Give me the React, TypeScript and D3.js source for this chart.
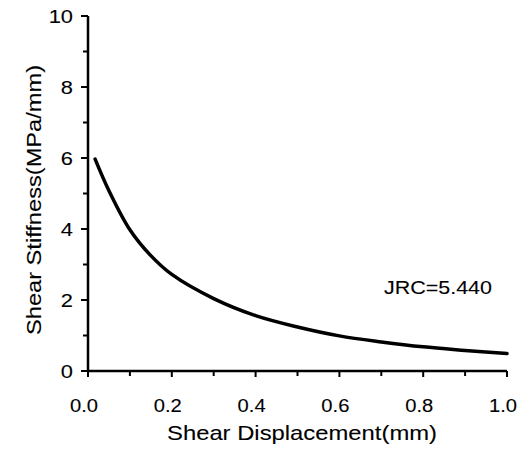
import React, { useRef, useEffect } from 'react';
import * as d3 from 'd3';

// curve
const dispValues = [0.017, 0.05, 0.1, 0.15, 0.2, 0.3, 0.4, 0.5, 0.6, 0.7, 0.8, 0.9, 1.0];
const stiffValues = [5.97, 5.08, 3.98, 3.25, 2.72, 2.04, 1.56, 1.24, 0.99, 0.82, 0.68, 0.58, 0.49];

const xMajor = [0, 0.2, 0.4, 0.6, 0.8, 1.0];
const xMinor = [0.1, 0.3, 0.5, 0.7, 0.9];
const yMajor = [0, 2, 4, 6, 8, 10];
const yMinor = [1, 3, 5, 7, 9];

const xTitle = 'Shear Displacement(mm)';
const yTitle = 'Shear Stiffness(MPa/mm)';
const note = 'JRC=5.440';

const App = () => {
  const ref = useRef(null);

  useEffect(() => {
    const width = 526, height = 451;
    const margin = { top: 16, right: 19, bottom: 80, left: 88 };
    const font = '"Liberation Sans", Arial, sans-serif';

    const root = d3.select(ref.current);
    root.selectAll('*').remove();

    const svg = root.append('svg')
      .attr('width', width)
      .attr('height', height)
      .style('position', 'absolute')
      .style('left', 0)
      .style('top', 0)
      .style('background', 'white');

    const x = d3.scaleLinear().domain([0, 1]).range([margin.left, width - margin.right]);
    const y = d3.scaleLinear().domain([0, 10]).range([height - margin.bottom, margin.top]);

    // scanned text is a bit wider than plain Arial
    function widen(sel, k) {
      sel.style('font-family', font)
        .attr('stroke', 'black')
        .attr('stroke-width', 0.1);
      sel.each(function () {
        const w = this.getComputedTextLength();
        d3.select(this).attr('textLength', w * k).attr('lengthAdjust', 'spacingAndGlyphs');
      });
    }

    // x axis
    const xAxis = svg.append('g').attr('transform', 'translate(0,' + y(0) + ')');
    xAxis.append('line')
      .attr('x1', x(0)).attr('x2', x(1))
      .attr('stroke', 'black').attr('stroke-width', 2.5);
    xAxis.selectAll('line.minor').data(xMinor).enter().append('line')
      .attr('class', 'minor')
      .attr('x1', d => x(d)).attr('x2', d => x(d))
      .attr('y1', 0).attr('y2', 5)
      .attr('stroke', 'black').attr('stroke-width', 2);
    xAxis.selectAll('line.major').data(xMajor).enter().append('line')
      .attr('class', 'major')
      .attr('x1', d => x(d)).attr('x2', d => x(d))
      .attr('y1', 0).attr('y2', 6)
      .attr('stroke', 'black').attr('stroke-width', 2);
    xAxis.selectAll('text').data(xMajor).enter().append('text')
      .attr('x', d => x(d) - 4)
      .attr('y', 41)
      .attr('text-anchor', 'middle')
      .style('font-size', '18px')
      .text(d => d3.format('.1f')(d))
      .call(widen, 1.12);

    // y axis
    const yAxis = svg.append('g').attr('transform', 'translate(' + x(0) + ',0)');
    yAxis.append('line')
      .attr('y1', y(0)).attr('y2', y(10))
      .attr('stroke', 'black').attr('stroke-width', 2.5);
    yAxis.selectAll('line.minor').data(yMinor).enter().append('line')
      .attr('class', 'minor')
      .attr('y1', d => y(d)).attr('y2', d => y(d))
      .attr('x1', 0).attr('x2', -5)
      .attr('stroke', 'black').attr('stroke-width', 2);
    yAxis.selectAll('line.major').data(yMajor).enter().append('line')
      .attr('class', 'major')
      .attr('y1', d => y(d)).attr('y2', d => y(d))
      .attr('x1', 0).attr('x2', -7)
      .attr('stroke', 'black').attr('stroke-width', 2);
    yAxis.selectAll('text').data(yMajor).enter().append('text')
      .attr('x', -15)
      .attr('y', d => y(d))
      .attr('dy', '0.36em')
      .attr('text-anchor', 'end')
      .style('font-size', '19px')
      .text(d => d)
      .call(widen, 1.15);

    // titles
    svg.append('text')
      .attr('x', 302)
      .attr('y', 440)
      .attr('text-anchor', 'middle')
      .style('font-size', '21px')
      .text(xTitle)
      .call(widen, 1)
      .attr('textLength', 270);

    svg.append('text')
      .attr('transform', 'translate(41,200) rotate(-90)')
      .attr('text-anchor', 'middle')
      .style('font-size', '21px')
      .text(yTitle)
      .call(widen, 1)
      .attr('textLength', 270);

    // curve
    const line = d3.line()
      .x((d, i) => x(dispValues[i]))
      .y(d => y(d))
      .curve(d3.curveCatmullRom.alpha(0.5));

    svg.append('path')
      .datum(stiffValues)
      .attr('d', line)
      .attr('fill', 'none')
      .attr('stroke', 'black')
      .attr('stroke-width', 3.5)
      .attr('stroke-linecap', 'round');

    svg.append('text')
      .attr('x', 384)
      .attr('y', 294)
      .style('font-size', '18px')
      .text(note)
      .call(widen, 1)
      .attr('textLength', 108);
  }, []);

  return <div ref={ref} />;
};

export default App;
